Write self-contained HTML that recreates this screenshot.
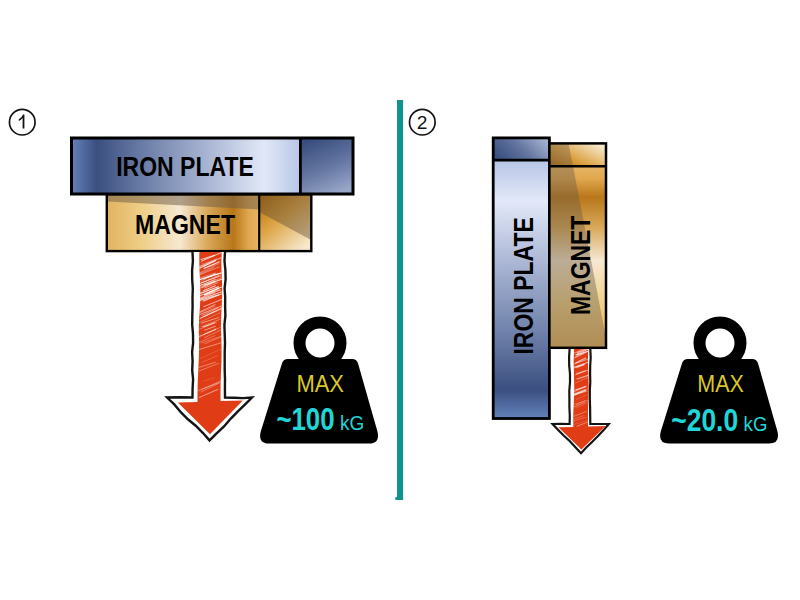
<!DOCTYPE html>
<html><head><meta charset="utf-8">
<style>
html,body{margin:0;padding:0;background:#fff;}
body{width:800px;height:600px;overflow:hidden;font-family:"Liberation Sans",sans-serif;}
svg{display:block}
text{font-family:"Liberation Sans",sans-serif;}
</style></head><body>
<svg width="800" height="600" viewBox="0 0 800 600" style="opacity:0.999">
<defs>
<linearGradient id="ironH" x1="0" y1="0" x2="1" y2="0">
<stop offset="0" stop-color="#6383bb"/>
<stop offset="0.11" stop-color="#3b4f80"/>
<stop offset="0.35" stop-color="#7385ad"/>
<stop offset="0.60" stop-color="#aab6d4"/>
<stop offset="0.84" stop-color="#e2e8f8"/>
<stop offset="1" stop-color="#b7c6e6"/>
</linearGradient>
<linearGradient id="ironCap" x1="0.3" y1="0" x2="0.7" y2="1">
<stop offset="0" stop-color="#3a4f80"/>
<stop offset="0.5" stop-color="#62749f"/>
<stop offset="1" stop-color="#98a6c8"/>
</linearGradient>
<linearGradient id="magH" x1="0" y1="0" x2="1" y2="0">
<stop offset="0" stop-color="#e2b261"/>
<stop offset="0.23" stop-color="#efcf86"/>
<stop offset="0.48" stop-color="#f6e8d2"/>
<stop offset="0.66" stop-color="#d9a95a"/>
<stop offset="0.83" stop-color="#b87719"/>
<stop offset="0.93" stop-color="#e0a74f"/>
<stop offset="1" stop-color="#e6b565"/>
</linearGradient>
<linearGradient id="magCap" x1="0" y1="0" x2="0.8" y2="1">
<stop offset="0" stop-color="#b06c0c"/>
<stop offset="0.45" stop-color="#dda445"/>
<stop offset="1" stop-color="#f7e9cf"/>
</linearGradient>
<linearGradient id="ironV" x1="0" y1="1" x2="0" y2="0">
<stop offset="0" stop-color="#6383bb"/>
<stop offset="0.11" stop-color="#3b4f80"/>
<stop offset="0.35" stop-color="#7385ad"/>
<stop offset="0.60" stop-color="#aab6d4"/>
<stop offset="0.84" stop-color="#e2e8f8"/>
<stop offset="1" stop-color="#b7c6e6"/>
</linearGradient>
<linearGradient id="magV" x1="0" y1="1" x2="0" y2="0">
<stop offset="0" stop-color="#e2b261"/>
<stop offset="0.23" stop-color="#efcf86"/>
<stop offset="0.48" stop-color="#f6e8d2"/>
<stop offset="0.66" stop-color="#d9a95a"/>
<stop offset="0.83" stop-color="#b87719"/>
<stop offset="0.93" stop-color="#e0a74f"/>
<stop offset="1" stop-color="#e6b565"/>
</linearGradient>
<linearGradient id="magCapV" x1="0" y1="1" x2="1" y2="0.2">
<stop offset="0" stop-color="#b06c0c"/>
<stop offset="0.45" stop-color="#dda445"/>
<stop offset="1" stop-color="#f7e9cf"/>
</linearGradient>
<linearGradient id="ironCapV" x1="0" y1="0.7" x2="1" y2="0.3">
<stop offset="0" stop-color="#3a4f80"/>
<stop offset="0.5" stop-color="#62749f"/>
<stop offset="1" stop-color="#a3b0cf"/>
</linearGradient>
<clipPath id="red1"><path d="M199.400 252 L221.800 252 Q221 262 221.600 272 Q222.600 290 221.800 304 Q220.600 322 221.300 338 Q222 356 221 372 Q220.300 388 220.600 401 L242.800 400.600 L210 434.300 L177.800 402.400 L197.500 402 Q197.300 386 198.300 370 Q199.300 352 199 338 Q198.300 322 200 306 Q200.800 290 199.800 276 Q199 264 199.400 252 Z"/></clipPath>
<clipPath id="red2"><path d="M574 349 L588.200 349 Q587.600 362 588.400 374 Q589 388 588.300 400 Q587.800 414 588 426.400 L605.600 426 L581.400 449.400 L558.400 427.200 L573.300 427 Q573 414 573.800 402 Q574.600 388 574 376 Q573.300 362 574 349 Z"/></clipPath>
</defs>

<!-- divider -->
<rect x="397" y="100" width="6.100" height="400" fill="#0f9290"/><rect x="395.200" y="497" width="3" height="3" rx="1" fill="#0f9290"/>

<!-- label 1 -->
<circle cx="22.250" cy="122.200" r="12.800" fill="#fff" stroke="#141414" stroke-width="1.700"/>
<path d="M18.800 119.300 Q21.900 117.800 23 114.500 L24.400 114.500 L24.400 128.500 L22.600 128.500 L22.600 117.900 Q21.200 119.700 18.800 120.900 Z" fill="#141414"/>
<!-- label 2 -->
<circle cx="422.300" cy="122.200" r="12.800" fill="#fff" stroke="#141414" stroke-width="1.700"/>
<text x="422.100" y="128.500" font-size="19.200" text-anchor="middle" fill="#141414">2</text>

<!-- iron plate 1 -->
<rect x="71.5" y="138" width="229" height="56" fill="url(#ironH)"/>
<rect x="300.5" y="138" width="52.500" height="56" fill="url(#ironCap)"/>
<rect x="71.5" y="138" width="281.500" height="56" fill="none" stroke="#000" stroke-width="3"/>
<line x1="300.4" y1="138" x2="300.4" y2="194" stroke="#000" stroke-width="2.8"/>
<text x="116.200" y="176" font-size="27" font-weight="bold" fill="#000" textLength="137.600" lengthAdjust="spacingAndGlyphs">IRON PLATE</text>

<!-- magnet 1 -->
<rect x="106.800" y="195" width="152.500" height="56" fill="url(#magH)"/>
<path d="M106.800 195 L259.200 195 L259.200 209.500 L106.800 201.500 Z" fill="#6b5a45" fill-opacity="0.5"/>
<rect x="259.200" y="195" width="52" height="56" fill="url(#magCap)"/>
<path d="M259.200 195 L311.200 195 L311.200 240 L259.200 212 Z" fill="#5e4a30" fill-opacity="0.42"/>
<rect x="106.800" y="194.500" width="204.500" height="56.600" fill="none" stroke="#000" stroke-width="2.4"/>
<line x1="259.200" y1="195" x2="259.200" y2="251" stroke="#000" stroke-width="2.2"/>
<text x="135" y="234.100" font-size="27" font-weight="bold" fill="#000" textLength="100" lengthAdjust="spacingAndGlyphs">MAGNET</text>

<!-- arrow 1 -->
<path d="M192.500 252 L192.500 397.500 L167 397.500 L209.500 440.400 L252 397.500 L225 397.500 L225 252 Z" fill="#fff" stroke="none"/>
<path d="M192.5 252.0 L192.9 261.1 L192.1 270.2 L192.2 279.3 L192.8 288.4 L192.5 297.5 L192.6 306.6 L192.3 315.7 L192.2 324.8 L193.0 333.8 L193.1 342.9 L192.1 352.0 L192.6 361.1 L192.2 370.2 L193.1 379.3 L192.6 388.4 L192.5 397.5 L179.8 397.2 L167.0 397.5 L174.3 404.4 L180.8 412.2 L187.9 419.3 L195.7 425.7 L202.8 432.8 L209.5 440.4 L216.6 433.3 L224.0 426.5 L230.6 418.8 L237.6 411.6 L244.9 404.6 L252.0 397.5 L243.0 398.1 L234.0 397.8 L225.0 397.5 L224.9 388.4 L225.0 379.3 L224.7 370.2 L224.7 361.1 L224.7 352.0 L225.0 342.9 L224.7 333.8 L224.4 324.8 L225.4 315.7 L225.1 306.6 L225.2 297.5 L224.6 288.4 L225.6 279.3 L225.4 270.2 L224.5 261.1 L225.0 252.0" fill="none" stroke="#141414" stroke-width="2.4" stroke-linejoin="miter" stroke-miterlimit="10"/>
<g clip-path="url(#red1)">
<rect x="170" y="250" width="80" height="190" fill="#e03d17"/>
<g stroke="#fff" stroke-linecap="round" id="hatch1"><line x1="197.6" y1="284.6" x2="218.8" y2="275.5" stroke-width="0.5" stroke-opacity="0.71"/><line x1="197.5" y1="299.6" x2="214.7" y2="292.5" stroke-width="1.1" stroke-opacity="0.59"/><line x1="204.4" y1="268.2" x2="219.2" y2="261.9" stroke-width="1.2" stroke-opacity="0.70"/><line x1="198.1" y1="343.0" x2="215.0" y2="335.6" stroke-width="1.1" stroke-opacity="0.25"/><line x1="199.9" y1="272.8" x2="218.9" y2="263.6" stroke-width="0.5" stroke-opacity="0.70"/><line x1="199.5" y1="274.9" x2="219.2" y2="266.8" stroke-width="0.7" stroke-opacity="0.59"/><line x1="201.5" y1="323.1" x2="218.7" y2="317.5" stroke-width="1.0" stroke-opacity="0.48"/><line x1="200.3" y1="358.7" x2="220.8" y2="349.1" stroke-width="0.8" stroke-opacity="0.19"/><line x1="201.5" y1="261.2" x2="221.9" y2="252.3" stroke-width="1.0" stroke-opacity="0.77"/><line x1="203.6" y1="306.7" x2="222.5" y2="299.1" stroke-width="1.0" stroke-opacity="0.60"/><line x1="204.7" y1="343.9" x2="221.4" y2="336.6" stroke-width="0.8" stroke-opacity="0.38"/><line x1="198.3" y1="312.8" x2="215.0" y2="304.7" stroke-width="1.0" stroke-opacity="0.60"/><line x1="203.8" y1="268.6" x2="214.6" y2="264.2" stroke-width="0.9" stroke-opacity="0.57"/><line x1="199.2" y1="397.4" x2="217.7" y2="389.5" stroke-width="1.1" stroke-opacity="0.45"/><line x1="198.8" y1="336.5" x2="216.0" y2="329.6" stroke-width="0.9" stroke-opacity="0.45"/><line x1="199.9" y1="279.5" x2="219.1" y2="273.6" stroke-width="1.0" stroke-opacity="0.58"/><line x1="197.4" y1="300.3" x2="222.1" y2="291.8" stroke-width="1.1" stroke-opacity="0.72"/><line x1="197.8" y1="323.4" x2="219.7" y2="312.8" stroke-width="0.5" stroke-opacity="0.57"/><line x1="197.4" y1="275.1" x2="213.9" y2="267.4" stroke-width="0.6" stroke-opacity="0.54"/><line x1="201.8" y1="287.8" x2="215.3" y2="281.8" stroke-width="0.7" stroke-opacity="0.83"/><line x1="204.7" y1="287.9" x2="218.1" y2="282.5" stroke-width="0.6" stroke-opacity="0.82"/><line x1="203.5" y1="266.4" x2="215.4" y2="260.5" stroke-width="1.2" stroke-opacity="0.50"/><line x1="197.2" y1="301.3" x2="218.7" y2="294.8" stroke-width="1.1" stroke-opacity="0.65"/><line x1="198.3" y1="315.1" x2="220.9" y2="306.2" stroke-width="1.0" stroke-opacity="0.55"/><line x1="204.7" y1="285.0" x2="221.7" y2="279.3" stroke-width="1.1" stroke-opacity="0.80"/><line x1="199.8" y1="318.7" x2="214.2" y2="311.6" stroke-width="0.7" stroke-opacity="0.63"/><line x1="200.5" y1="279.3" x2="222.4" y2="272.6" stroke-width="1.2" stroke-opacity="0.88"/><line x1="198.5" y1="287.9" x2="215.8" y2="281.4" stroke-width="1.1" stroke-opacity="0.47"/><line x1="203.2" y1="326.9" x2="214.7" y2="322.7" stroke-width="1.1" stroke-opacity="0.71"/><line x1="198.4" y1="390.8" x2="221.1" y2="381.0" stroke-width="1.1" stroke-opacity="0.32"/><line x1="204.4" y1="337.7" x2="220.5" y2="330.2" stroke-width="0.6" stroke-opacity="0.57"/><line x1="198.1" y1="349.8" x2="221.4" y2="342.7" stroke-width="1.0" stroke-opacity="0.43"/><line x1="197.1" y1="286.7" x2="222.7" y2="277.3" stroke-width="0.9" stroke-opacity="0.42"/><line x1="203.4" y1="334.6" x2="215.8" y2="329.0" stroke-width="0.7" stroke-opacity="0.83"/><line x1="200.3" y1="277.7" x2="215.1" y2="273.0" stroke-width="0.7" stroke-opacity="0.49"/><line x1="200.3" y1="295.6" x2="222.3" y2="286.8" stroke-width="0.9" stroke-opacity="0.85"/><line x1="198.4" y1="300.9" x2="213.9" y2="295.7" stroke-width="0.6" stroke-opacity="0.59"/><line x1="199.5" y1="370.8" x2="218.6" y2="363.4" stroke-width="1.0" stroke-opacity="0.34"/><line x1="199.2" y1="266.7" x2="220.9" y2="258.0" stroke-width="0.9" stroke-opacity="0.49"/><line x1="201.8" y1="389.4" x2="218.5" y2="382.8" stroke-width="1.0" stroke-opacity="0.31"/><line x1="204.3" y1="295.1" x2="220.3" y2="289.9" stroke-width="1.2" stroke-opacity="0.61"/><line x1="203.6" y1="279.3" x2="215.1" y2="273.8" stroke-width="0.8" stroke-opacity="0.87"/><line x1="202.2" y1="263.9" x2="221.0" y2="257.9" stroke-width="0.6" stroke-opacity="0.39"/><line x1="203.9" y1="316.7" x2="222.7" y2="308.1" stroke-width="1.2" stroke-opacity="0.43"/><line x1="203.5" y1="290.7" x2="215.4" y2="285.7" stroke-width="0.9" stroke-opacity="0.89"/><line x1="202.6" y1="285.8" x2="214.1" y2="281.4" stroke-width="0.8" stroke-opacity="0.53"/><line x1="201.0" y1="259.5" x2="214.5" y2="255.4" stroke-width="1.1" stroke-opacity="0.69"/><line x1="197.3" y1="337.7" x2="221.0" y2="327.1" stroke-width="0.6" stroke-opacity="0.50"/><line x1="199.0" y1="367.4" x2="215.3" y2="362.3" stroke-width="0.9" stroke-opacity="0.44"/><line x1="202.4" y1="315.4" x2="217.8" y2="308.0" stroke-width="1.2" stroke-opacity="0.38"/><line x1="203.7" y1="381.2" x2="214.5" y2="377.7" stroke-width="0.8" stroke-opacity="0.18"/><line x1="199.1" y1="285.8" x2="215.1" y2="279.5" stroke-width="0.7" stroke-opacity="0.86"/><line x1="198.6" y1="267.0" x2="216.7" y2="259.0" stroke-width="1.0" stroke-opacity="0.38"/><line x1="199.7" y1="281.8" x2="214.1" y2="275.3" stroke-width="0.5" stroke-opacity="0.45"/><line x1="200.7" y1="318.1" x2="222.4" y2="307.7" stroke-width="1.1" stroke-opacity="0.45"/><line x1="200.1" y1="293.4" x2="218.5" y2="286.8" stroke-width="1.2" stroke-opacity="0.81"/><line x1="202.0" y1="362.3" x2="217.6" y2="355.6" stroke-width="0.5" stroke-opacity="0.40"/><line x1="199.0" y1="268.6" x2="215.4" y2="260.7" stroke-width="1.1" stroke-opacity="0.76"/><line x1="198.9" y1="329.4" x2="216.6" y2="322.2" stroke-width="0.6" stroke-opacity="0.51"/><line x1="204.6" y1="294.6" x2="218.9" y2="288.1" stroke-width="1.2" stroke-opacity="0.88"/><line x1="200.0" y1="283.4" x2="218.2" y2="276.1" stroke-width="0.6" stroke-opacity="0.35"/><line x1="197.7" y1="299.4" x2="217.5" y2="289.6" stroke-width="0.5" stroke-opacity="0.50"/><line x1="201.1" y1="282.9" x2="220.7" y2="275.7" stroke-width="1.0" stroke-opacity="0.67"/><line x1="204.7" y1="330.1" x2="215.3" y2="326.3" stroke-width="1.0" stroke-opacity="0.53"/><line x1="201.9" y1="342.8" x2="220.6" y2="336.5" stroke-width="0.6" stroke-opacity="0.46"/><line x1="203.3" y1="300.9" x2="221.4" y2="294.0" stroke-width="1.1" stroke-opacity="0.81"/><line x1="197.2" y1="314.0" x2="215.1" y2="306.4" stroke-width="0.6" stroke-opacity="0.48"/><line x1="201.9" y1="326.5" x2="220.1" y2="319.2" stroke-width="0.5" stroke-opacity="0.70"/><line x1="201.2" y1="391.9" x2="219.9" y2="382.7" stroke-width="1.0" stroke-opacity="0.33"/><line x1="202.7" y1="278.7" x2="215.8" y2="274.1" stroke-width="1.2" stroke-opacity="0.50"/></g>
</g>

<!-- weight 1 -->
<g id="w1">
<circle cx="320" cy="343" r="20.500" fill="none" stroke="#000" stroke-width="12"/>
<path d="M288 359 L352 359 Q357 359 358.200 364 L377.600 432 Q380 443.600 369 443.600 L269 443.600 Q258 443.600 260.600 432 L281.800 364 Q283 359 288 359 Z" fill="#000"/>
<text x="296.400" y="391.700" font-size="24" fill="#d9c82a" textLength="47.600" lengthAdjust="spacingAndGlyphs">MAX</text>
<text x="276.400" y="430.200" font-size="31.500" font-weight="bold" fill="#1fd6d8" textLength="58.200" lengthAdjust="spacingAndGlyphs">~100</text>
<text x="340" y="430.200" font-size="20" fill="#1fd6d8" textLength="24.300" lengthAdjust="spacingAndGlyphs">kG</text>
</g>

<!-- iron plate 2 -->
<rect x="493.200" y="160" width="56.200" height="258.500" fill="url(#ironV)"/>
<rect x="493.200" y="137.900" width="56.200" height="22.200" fill="url(#ironCapV)"/>
<rect x="493.200" y="137.900" width="56.200" height="280.600" fill="none" stroke="#000" stroke-width="2.8"/>
<line x1="493.200" y1="160.100" x2="549.400" y2="160.100" stroke="#000" stroke-width="2.6"/>
<text transform="translate(533.200 354.500) rotate(-90)" font-size="27" font-weight="bold" fill="#000" textLength="137.200" lengthAdjust="spacingAndGlyphs">IRON PLATE</text>

<!-- magnet 2 -->
<rect x="549.400" y="166" width="56.600" height="182" fill="url(#magV)"/>
<path d="M549.400 166 L573 166 L606 338 L606 348 L549.400 348 Z" fill="#6b5a45" fill-opacity="0.42"/>
<rect x="549.400" y="143.400" width="56.600" height="22.800" fill="url(#magCapV)"/>
<path d="M549.400 143.400 L568.500 143.400 L573 166 L549.400 166 Z" fill="#6b5a45" fill-opacity="0.4"/>
<rect x="549.400" y="143.400" width="56.600" height="204.400" fill="none" stroke="#000" stroke-width="2.5"/>
<line x1="549.400" y1="166.200" x2="606" y2="166.200" stroke="#000" stroke-width="2.5"/>
<text transform="translate(589.600 315) rotate(-90)" font-size="27" font-weight="bold" fill="#000" textLength="99.300" lengthAdjust="spacingAndGlyphs">MAGNET</text>

<!-- arrow 2 -->
<path d="M569.600 349 L569.600 424 L552.600 424 L581 453.200 L608.800 424 L590.300 424 L590.300 349 Z" fill="#fff"/>
<path d="M569.6 349.0 L569.1 357.3 L569.2 365.7 L570.0 374.0 L570.0 382.3 L569.3 390.7 L569.4 399.0 L569.4 407.3 L569.8 415.7 L569.6 424.0 L561.1 423.9 L552.6 424.0 L558.2 429.9 L563.9 435.7 L569.9 441.3 L575.4 447.3 L581.0 453.2 L586.5 447.3 L592.3 441.7 L598.0 436.0 L603.6 430.1 L608.8 424.0 L599.5 424.0 L590.3 424.0 L590.2 415.7 L590.1 407.3 L589.8 399.0 L589.8 390.7 L590.3 382.3 L590.1 374.0 L590.2 365.7 L590.7 357.3 L590.3 349.0" fill="none" stroke="#141414" stroke-width="2.2" stroke-linejoin="miter" stroke-miterlimit="10"/>
<g clip-path="url(#red2)">
<rect x="550" y="345" width="60" height="110" fill="#e03d17"/>
<g stroke="#fff" stroke-linecap="round" id="hatch2"><line x1="575.7" y1="374.7" x2="588.5" y2="369.9" stroke-width="0.9" stroke-opacity="0.61"/><line x1="576.0" y1="355.6" x2="585.6" y2="351.9" stroke-width="0.5" stroke-opacity="0.49"/><line x1="575.7" y1="354.8" x2="588.0" y2="349.4" stroke-width="0.9" stroke-opacity="0.72"/><line x1="576.8" y1="373.4" x2="585.0" y2="370.9" stroke-width="1.2" stroke-opacity="0.42"/><line x1="577.2" y1="352.8" x2="586.5" y2="348.7" stroke-width="0.6" stroke-opacity="0.80"/><line x1="572.8" y1="395.5" x2="587.0" y2="391.1" stroke-width="0.6" stroke-opacity="0.67"/><line x1="575.8" y1="389.7" x2="585.2" y2="386.7" stroke-width="0.8" stroke-opacity="0.84"/><line x1="574.4" y1="353.1" x2="585.6" y2="347.9" stroke-width="0.7" stroke-opacity="0.62"/><line x1="576.1" y1="408.1" x2="589.0" y2="402.0" stroke-width="1.1" stroke-opacity="0.15"/><line x1="574.0" y1="420.8" x2="586.2" y2="417.2" stroke-width="0.9" stroke-opacity="0.25"/><line x1="572.3" y1="368.6" x2="584.3" y2="364.6" stroke-width="0.7" stroke-opacity="0.50"/><line x1="574.8" y1="395.0" x2="584.9" y2="390.7" stroke-width="1.2" stroke-opacity="0.50"/><line x1="576.9" y1="426.3" x2="589.6" y2="421.3" stroke-width="1.0" stroke-opacity="0.37"/><line x1="576.1" y1="399.6" x2="587.8" y2="394.4" stroke-width="0.5" stroke-opacity="0.31"/><line x1="573.9" y1="394.6" x2="585.6" y2="390.5" stroke-width="1.2" stroke-opacity="0.61"/><line x1="575.0" y1="364.0" x2="586.2" y2="358.8" stroke-width="0.6" stroke-opacity="0.52"/><line x1="573.2" y1="404.7" x2="589.4" y2="399.8" stroke-width="0.8" stroke-opacity="0.32"/><line x1="573.8" y1="358.4" x2="584.3" y2="353.7" stroke-width="0.7" stroke-opacity="0.40"/><line x1="574.2" y1="416.2" x2="586.3" y2="411.5" stroke-width="0.8" stroke-opacity="0.41"/><line x1="577.2" y1="367.6" x2="584.5" y2="364.7" stroke-width="0.9" stroke-opacity="0.50"/><line x1="573.3" y1="391.7" x2="586.2" y2="386.4" stroke-width="1.2" stroke-opacity="0.50"/><line x1="572.2" y1="425.2" x2="588.2" y2="420.0" stroke-width="0.8" stroke-opacity="0.16"/><line x1="577.0" y1="379.0" x2="588.9" y2="375.1" stroke-width="1.2" stroke-opacity="0.57"/><line x1="574.8" y1="363.4" x2="588.0" y2="359.3" stroke-width="1.0" stroke-opacity="0.43"/><line x1="575.0" y1="418.7" x2="583.9" y2="415.6" stroke-width="0.7" stroke-opacity="0.31"/><line x1="572.7" y1="394.3" x2="585.3" y2="389.6" stroke-width="1.0" stroke-opacity="0.52"/><line x1="575.1" y1="357.2" x2="586.1" y2="352.2" stroke-width="0.9" stroke-opacity="0.64"/><line x1="577.2" y1="352.5" x2="587.8" y2="349.1" stroke-width="0.8" stroke-opacity="0.60"/><line x1="575.8" y1="362.8" x2="585.6" y2="357.9" stroke-width="0.8" stroke-opacity="0.88"/><line x1="575.6" y1="383.0" x2="589.5" y2="376.7" stroke-width="0.5" stroke-opacity="0.49"/><line x1="573.1" y1="367.6" x2="588.7" y2="362.0" stroke-width="0.9" stroke-opacity="0.73"/><line x1="576.4" y1="404.6" x2="585.2" y2="400.6" stroke-width="1.0" stroke-opacity="0.26"/><line x1="573.0" y1="407.4" x2="585.1" y2="402.4" stroke-width="1.0" stroke-opacity="0.32"/><line x1="573.1" y1="395.6" x2="589.8" y2="387.8" stroke-width="0.5" stroke-opacity="0.57"/><line x1="576.8" y1="354.8" x2="588.3" y2="351.3" stroke-width="1.2" stroke-opacity="0.84"/><line x1="576.0" y1="367.1" x2="583.9" y2="364.3" stroke-width="0.8" stroke-opacity="0.86"/></g>
</g>

<!-- weight 2 -->
<g id="w2">
<circle cx="720" cy="343" r="20.500" fill="none" stroke="#000" stroke-width="12"/>
<path d="M688 359 L752 359 Q757 359 758.200 364 L777.600 432 Q780 443.600 769 443.600 L669 443.600 Q658 443.600 660.600 432 L681.800 364 Q683 359 688 359 Z" fill="#000"/>
<text x="697.300" y="391.800" font-size="24" fill="#d9c82a" textLength="46.600" lengthAdjust="spacingAndGlyphs">MAX</text>
<text x="671.300" y="430.600" font-size="31.500" font-weight="bold" fill="#1fd6d8" textLength="66.800" lengthAdjust="spacingAndGlyphs">~20.0</text>
<text x="743.600" y="430.600" font-size="20" fill="#1fd6d8" textLength="23.800" lengthAdjust="spacingAndGlyphs">kG</text>
</g>
</svg>
</body></html>
